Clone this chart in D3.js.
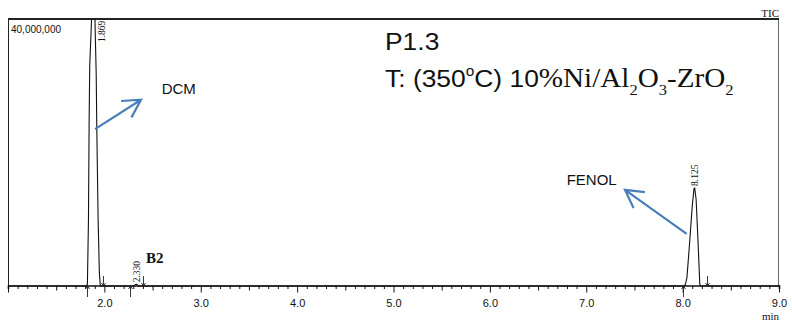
<!DOCTYPE html>
<html>
<head>
<meta charset="utf-8">
<script src="https://cdn.jsdelivr.net/npm/d3@7"></script>
<style>
	html, body { margin: 0; padding: 0; background: #fff; }
	svg { display: block; }
</style>
</head>
<body>
<svg id="chart"></svg>
<script>
// trace (retention time in min, intensity in counts)
const traceTime = [1.000, 1.815, 1.824, 1.835, 1.842, 1.848, 1.862, 1.872, 1.885, 1.900, 1.905, 1.915, 1.921, 1.935, 1.948, 1.958,
                   2.300, 2.330, 2.360,
                   8.020, 8.030, 8.045, 8.070, 8.100, 8.118, 8.125, 8.140, 8.160, 8.178, 8.185, 9.000];
const traceInt  = [0, 0, 0.3e6, 10e6, 25e6, 33e6, 38e6, 42e6, 50e6, 42e6, 38e6, 32e6, 24e6, 10e6, 2e6, 0,
                   0, 0.25e6, 0,
                   0, 0.3e6, 1.3e6, 6e6, 12e6, 14.6e6, 14.7e6, 13e6, 6.6e6, 0.3e6, 0, 0];

// integrated peaks
const peakRT    = [1.869, 2.330, 8.125];
const peakStart = [1.823, 2.266, 8.001];
const peakEnd   = [1.983, 2.404, 8.250];
const peakLabel = ["1.869", "2.330", "8.125"];

// axis
const xDomain = [1.0, 9.0];
const yDomain = [0, 40e6];
const xMajor  = [2, 3, 4, 5, 6, 7, 8, 9];

// annotations (time, intensity)
const arrows = [
	{ from: [1.903, 23.5e6], to: [2.380, 27.9e6] },  // DCM
	{ from: [8.042, 7.8e6],  to: [7.402, 14.4e6] },  // FENOL
];
const notes = [
	{ t: 2.595, y: 28.8e6, text: "DCM" },
	{ t: 6.797, y: 15.2e6, text: "FENOL" },
];

(function draw() {
	const width = 792;
	const height = 325;
	const pLeft = 8, pRight = 779, pTop = 19, pBase = 286;

	const svg = d3.select("#chart")
	              .attr("width", width)
	              .attr("height", height);

	const xScale = d3.scaleLinear(xDomain, [pLeft, pRight]);
	const yScale = d3.scaleLinear(yDomain, [pBase, pTop]);

	const blue = "#4a7ebb";
	const sans = "'Liberation Sans', Arial, sans-serif";
	const serif = "'Liberation Serif', 'Times New Roman', serif";

	// frame
	svg.append("line")
	   .attr("x1", pLeft + 0.5).attr("x2", pLeft + 0.5)
	   .attr("y1", pTop).attr("y2", pBase)
	   .attr("stroke", "#222").attr("stroke-width", 1);
	svg.append("line")
	   .attr("x1", pRight - 0.5).attr("x2", pRight - 0.5)
	   .attr("y1", pTop).attr("y2", pBase)
	   .attr("stroke", "#666").attr("stroke-width", 1);
	svg.append("line")
	   .attr("x1", pLeft).attr("x2", pRight)
	   .attr("y1", pTop).attr("y2", pTop)
	   .attr("stroke", "#222").attr("stroke-width", 2);

	// x axis, minor ticks every 0.1 min
	const ticks = d3.range(10, 91).map(d => d / 10);
	const xAxis = d3.axisBottom(xScale)
	                .tickValues(ticks)
	                .tickSizeOuter(0)
	                .tickSize(3.5)
	                .tickFormat(d => xMajor.includes(Math.round(d * 10) / 10) ? d3.format(".1f")(d) : "");

	svg.append("g")
	   .attr("transform", `translate(0, ${pBase - 0.5})`)
	   .call(xAxis)
	   .call(g => g.select(".domain").attr("stroke", "#111").attr("stroke-width", 1.6))
	   .call(g => g.selectAll(".tick line")
	               .attr("stroke", "#111")
	               .attr("y2", d => {
	                   const k = Math.round(d * 10);
	                   if (k % 10 === 0) return 7;
	                   if (k % 5 === 0) return 5;
	                   return 3.5;
	               }))
	   .call(g => g.selectAll(".tick text")
	               .attr("y", 14)
	               .attr("font-family", sans)
	               .attr("font-size", 11)
	               .attr("fill", "#111"));

	// trace
	svg.append("clipPath").attr("id", "plot")
	   .append("rect")
	   .attr("x", pLeft).attr("y", pTop)
	   .attr("width", pRight - pLeft).attr("height", pBase - pTop + 20);

	const line = d3.line()
	               .x(i => xScale(traceTime[i]))
	               .y(i => yScale(traceInt[i]));

	svg.append("path")
	   .attr("clip-path", "url(#plot)")
	   .attr("d", line(d3.range(traceTime.length)))
	   .attr("fill", "none")
	   .attr("stroke", "#111")
	   .attr("stroke-width", 1.1)
	   .attr("stroke-linejoin", "round");

	// peak start / end markers
	function marker(x, y1, y2) {
		const dir = Math.sign(y2 - y1);
		svg.append("path")
		   .attr("d", `M${x},${y1}V${y2}M${x - 2},${y2 - dir * 3}L${x},${y2}L${x + 2},${y2 - dir * 3}`)
		   .attr("fill", "none")
		   .attr("stroke", "#222")
		   .attr("stroke-width", 0.9);
	}
	peakStart.forEach(t => marker(Math.round(xScale(t)) + 0.5, pBase + 11, pBase));
	peakEnd.forEach(t => marker(Math.round(xScale(t)) + 0.5, pBase - 10, pBase));

	// retention time labels
	const labelSize = 9.5;
	peakRT.forEach((rt, i) => {
		const inPeak = d3.range(traceTime.length).filter(j => traceTime[j] >= peakStart[i] && traceTime[j] <= peakEnd[i]);
		const apex = d3.max(inPeak, j => traceInt[j]);
		const clipped = apex > yDomain[1];
		const cx = xScale(rt) + (clipped ? 10 : 0);
		const yb = clipped ? pTop + 23 : yScale(apex) - 2;
		svg.append("text")
		   .attr("transform", `translate(${cx + labelSize * 0.36}, ${yb}) rotate(-90)`)
		   .attr("font-family", serif)
		   .attr("font-size", labelSize)
		   .attr("fill", "#111")
		   .text(peakLabel[i]);
	});

	// B2 tag
	svg.append("text")
	   .attr("x", xScale(2.432)).attr("y", yScale(3.45e6))
	   .attr("font-family", serif)
	   .attr("font-weight", "bold")
	   .attr("font-size", 15)
	   .attr("fill", "#111")
	   .text("B2");

	// corner labels
	svg.append("text")
	   .attr("x", pLeft + 3).attr("y", pTop + 14)
	   .attr("font-family", sans).attr("font-size", 10).attr("fill", "#111")
	   .text("40,000,000");
	svg.append("text")
	   .attr("x", pRight).attr("y", pTop - 2.5)
	   .attr("text-anchor", "end")
	   .attr("font-family", serif).attr("font-size", 11).attr("fill", "#111")
	   .text("TIC");
	svg.append("text")
	   .attr("x", pRight).attr("y", 320)
	   .attr("text-anchor", "end")
	   .attr("font-family", serif).attr("font-size", 11).attr("fill", "#111")
	   .text("min");

	// annotation arrows
	arrows.forEach(a => {
		const x1 = xScale(a.from[0]), y1 = yScale(a.from[1]);
		const x2 = xScale(a.to[0]), y2 = yScale(a.to[1]);
		const ang = Math.atan2(y1 - y2, x1 - x2);
		const len = 20, spread = Math.PI / 6.2;
		const w1 = [x2 + len * Math.cos(ang - spread), y2 + len * Math.sin(ang - spread)];
		const w2 = [x2 + len * Math.cos(ang + spread), y2 + len * Math.sin(ang + spread)];
		svg.append("path")
		   .attr("d", `M${x1},${y1}L${x2},${y2}M${w1[0]},${w1[1]}L${x2},${y2}L${w2[0]},${w2[1]}`)
		   .attr("fill", "none")
		   .attr("stroke", blue)
		   .attr("stroke-width", 2.2)
		   .attr("stroke-linejoin", "miter");
	});

	notes.forEach(n => {
		svg.append("text")
		   .attr("x", xScale(n.t)).attr("y", yScale(n.y))
		   .attr("font-family", sans)
		   .attr("font-size", 15)
		   .attr("fill", "#111")
		   .text(n.text);
	});

	// sample title (source image is slightly stretched horizontally)
	const tx = xScale(4.912);
	svg.append("text")
	   .attr("transform", `translate(${tx}, ${yScale(35.3e6)}) scale(1.1, 1)`)
	   .attr("font-family", sans).attr("font-size", 24).attr("fill", "#111")
	   .text("P1.3");

	const t2 = svg.append("text")
	              .attr("transform", `translate(${tx}, ${yScale(29.8e6)}) scale(1.1, 1)`)
	              .attr("font-size", 24).attr("fill", "#111");
	const parts = [
		{ s: "T: (350", f: sans, size: 24, dy: 0 },
		{ s: "o", f: sans, size: 14, dy: -11 },
		{ s: "C) 10", f: sans, size: 24, dy: 11 },
		{ s: "%Ni/Al", f: serif, size: 26.5, dy: 0 },
		{ s: "2", f: serif, size: 15, dy: 8 },
		{ s: "O", f: serif, size: 26.5, dy: -8 },
		{ s: "3", f: serif, size: 15, dy: 8 },
		{ s: "-ZrO", f: serif, size: 26.5, dy: -8 },
		{ s: "2", f: serif, size: 15, dy: 8 },
	];
	parts.forEach(p => {
		t2.append("tspan")
		  .attr("font-family", p.f)
		  .attr("font-size", p.size)
		  .attr("dy", p.dy)
		  .text(p.s);
	});
})();
</script>
</body>
</html>
